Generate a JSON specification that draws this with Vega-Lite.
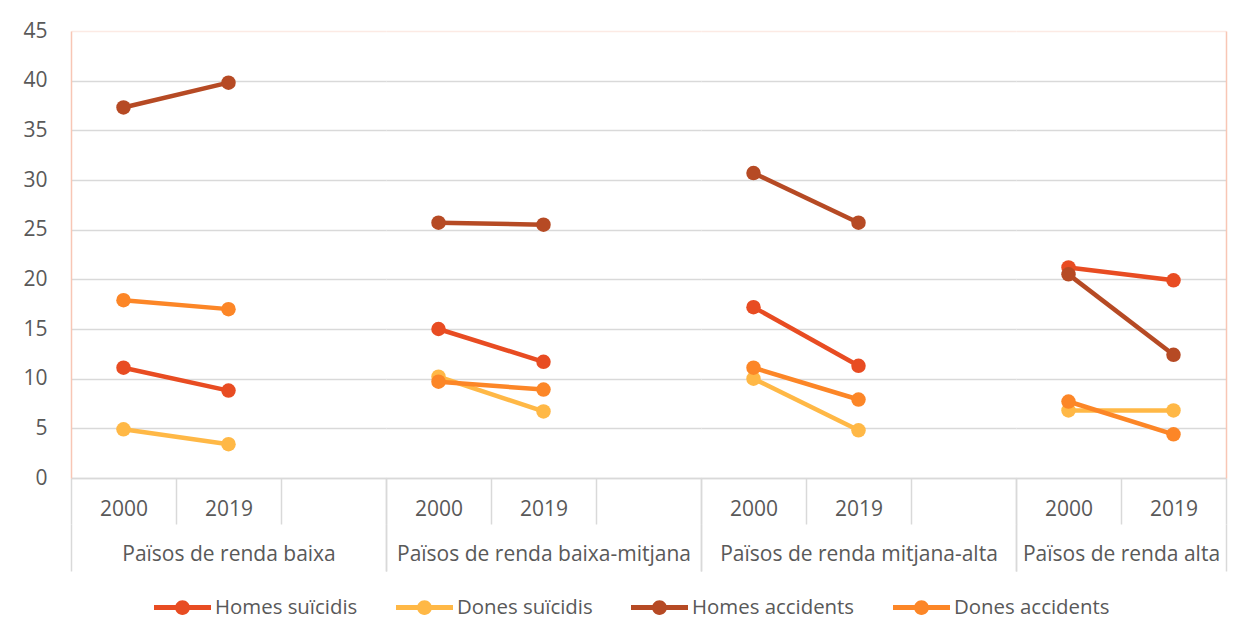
{
  "$schema": "https://vega.github.io/schema/vega-lite/v6.json",
  "data": {"values": [
    {"grup": "Països de renda baixa", "any": "2000", "serie": "Homes suïcidis", "valor": 11.1},
    {"grup": "Països de renda baixa", "any": "2019", "serie": "Homes suïcidis", "valor": 8.8},
    {"grup": "Països de renda baixa", "any": "2000", "serie": "Dones suïcidis", "valor": 4.9},
    {"grup": "Països de renda baixa", "any": "2019", "serie": "Dones suïcidis", "valor": 3.4},
    {"grup": "Països de renda baixa", "any": "2000", "serie": "Homes accidents", "valor": 37.3},
    {"grup": "Països de renda baixa", "any": "2019", "serie": "Homes accidents", "valor": 39.8},
    {"grup": "Països de renda baixa", "any": "2000", "serie": "Dones accidents", "valor": 17.9},
    {"grup": "Països de renda baixa", "any": "2019", "serie": "Dones accidents", "valor": 17.0},
    {"grup": "Països de renda baixa-mitjana", "any": "2000", "serie": "Homes suïcidis", "valor": 15.0},
    {"grup": "Països de renda baixa-mitjana", "any": "2019", "serie": "Homes suïcidis", "valor": 11.7},
    {"grup": "Països de renda baixa-mitjana", "any": "2000", "serie": "Dones suïcidis", "valor": 10.2},
    {"grup": "Països de renda baixa-mitjana", "any": "2019", "serie": "Dones suïcidis", "valor": 6.7},
    {"grup": "Països de renda baixa-mitjana", "any": "2000", "serie": "Homes accidents", "valor": 25.7},
    {"grup": "Països de renda baixa-mitjana", "any": "2019", "serie": "Homes accidents", "valor": 25.5},
    {"grup": "Països de renda baixa-mitjana", "any": "2000", "serie": "Dones accidents", "valor": 9.7},
    {"grup": "Països de renda baixa-mitjana", "any": "2019", "serie": "Dones accidents", "valor": 8.9},
    {"grup": "Països de renda mitjana-alta", "any": "2000", "serie": "Homes suïcidis", "valor": 17.2},
    {"grup": "Països de renda mitjana-alta", "any": "2019", "serie": "Homes suïcidis", "valor": 11.3},
    {"grup": "Països de renda mitjana-alta", "any": "2000", "serie": "Dones suïcidis", "valor": 10.0},
    {"grup": "Països de renda mitjana-alta", "any": "2019", "serie": "Dones suïcidis", "valor": 4.8},
    {"grup": "Països de renda mitjana-alta", "any": "2000", "serie": "Homes accidents", "valor": 30.7},
    {"grup": "Països de renda mitjana-alta", "any": "2019", "serie": "Homes accidents", "valor": 25.7},
    {"grup": "Països de renda mitjana-alta", "any": "2000", "serie": "Dones accidents", "valor": 11.1},
    {"grup": "Països de renda mitjana-alta", "any": "2019", "serie": "Dones accidents", "valor": 7.9},
    {"grup": "Països de renda alta", "any": "2000", "serie": "Homes suïcidis", "valor": 21.2},
    {"grup": "Països de renda alta", "any": "2019", "serie": "Homes suïcidis", "valor": 19.9},
    {"grup": "Països de renda alta", "any": "2000", "serie": "Dones suïcidis", "valor": 6.8},
    {"grup": "Països de renda alta", "any": "2019", "serie": "Dones suïcidis", "valor": 6.8},
    {"grup": "Països de renda alta", "any": "2000", "serie": "Homes accidents", "valor": 20.5},
    {"grup": "Països de renda alta", "any": "2019", "serie": "Homes accidents", "valor": 12.4},
    {"grup": "Països de renda alta", "any": "2000", "serie": "Dones accidents", "valor": 7.7},
    {"grup": "Països de renda alta", "any": "2019", "serie": "Dones accidents", "valor": 4.4}
  ]},
  "padding": {"left": 22, "top": 20, "right": 28, "bottom": 0},
  "bounds": "flush",
  "spacing": 0,
  "config": {
    "font": "Open Sans",
    "view": {"stroke": null},
    "axis": {"labelFont": "Open Sans", "labelColor": "#595959", "labelFontSize": 21},
    "legend": {
      "labelFont": "Open Sans", "labelFontSize": 20.4, "labelColor": "#595959", "labelLimit": 400,
      "columnPadding": 38, "labelOffset": 4, "padding": 0
    }
  },
  "resolve": {"scale": {"color": "independent", "y": "independent", "x": "independent"}, "legend": {"color": "independent"}},
  "hconcat": [
    {
      "width": 315, "height": 447,
      "transform": [{"filter": "datum.grup === 'Països de renda baixa'"}],
      "layer": [
        {"mark": {"type": "line", "strokeWidth": 4.5},
         "encoding": {
           "x": {"field": "any", "type": "ordinal", "scale": {"type": "band", "domain": ["2000", "2019", "_"], "paddingInner": 0, "paddingOuter": 0},
                 "axis": {"title": null, "labelAngle": 0, "tickBand": "extent", "tickSize": 46, "tickColor": "#D9D9D9", "tickWidth": 1.5, "domainColor": "#D9D9D9", "domainWidth": 1.5, "labelPadding": -26, "labelExpr": "datum.value == '_' ? '' : datum.value", "grid": false}},
           "y": {"field": "valor", "type": "quantitative", "scale": {"domain": [0, 45]},
                 "axis": {"title": null, "values": [0, 5, 10, 15, 20, 25, 30, 35, 40, 45], "ticks": false, "domain": true, "domainColor": "#F8C6B5", "domainWidth": 1.5, "labelPadding": 24, "grid": true, "gridColor": {"condition": {"test": "datum.value === 45", "value": "#FCEAE4"}, "value": "#D9D9D9"}, "gridWidth": 1.5}},
           "stroke": {"field": "serie", "type": "nominal", "scale": {"domain": ["Homes suïcidis", "Dones suïcidis", "Homes accidents", "Dones accidents"], "range": ["#E84C22", "#FFB846", "#B64A24", "#FC8627"]}, "legend": null}
         }},
        {"mark": {"type": "point", "filled": true, "size": 210, "opacity": 1},
         "encoding": {
           "x": {"field": "any", "type": "ordinal", "scale": {"type": "band", "domain": ["2000", "2019", "_"], "paddingInner": 0, "paddingOuter": 0}, "axis": null},
           "y": {"field": "valor", "type": "quantitative", "scale": {"domain": [0, 45]}},
           "color": {"field": "serie", "type": "nominal", "scale": {"domain": ["Homes suïcidis", "Dones suïcidis", "Homes accidents", "Dones accidents"], "range": ["#E84C22", "#FFB846", "#B64A24", "#FC8627"]},
                     "legend": {"title": null, "orient": "none", "legendX": 83, "legendY": 548, "direction": "horizontal",
                                "symbolType": "M-1,-0.09H1V0.09H-1Z M-0.26,0A0.26,0.26 0 1,1 0.26,0A0.26,0.26 0 1,1 -0.26,0Z",
                                "symbolSize": 3249, "symbolStrokeWidth": 0, "symbolOpacity": 1}}
         }},
        {"mark": {"type": "rule", "strokeOpacity": 0},
         "encoding": {
           "x": {"field": "grup", "type": "nominal", "scale": {"type": "band", "paddingInner": 0, "paddingOuter": 0},
                 "axis": {"title": null, "orient": "bottom", "offset": 46, "labelAngle": 0, "tickBand": "extent", "tickSize": 47, "tickColor": "#D9D9D9", "tickWidth": 1.5, "domain": false, "labelPadding": -28, "labelLimit": 0, "grid": false}}
         }}
      ],
      "resolve": {"scale": {"x": "independent"}, "axis": {"x": "independent"}}
    },
    {
      "width": 315, "height": 447,
      "transform": [{"filter": "datum.grup === 'Països de renda baixa-mitjana'"}],
      "layer": [
        {"mark": {"type": "line", "strokeWidth": 4.5},
         "encoding": {
           "x": {"field": "any", "type": "ordinal", "scale": {"type": "band", "domain": ["2000", "2019", "_"], "paddingInner": 0, "paddingOuter": 0},
                 "axis": {"title": null, "labelAngle": 0, "tickBand": "extent", "tickSize": 46, "tickColor": "#D9D9D9", "tickWidth": 1.5, "domainColor": "#D9D9D9", "domainWidth": 1.5, "labelPadding": -26, "labelExpr": "datum.value == '_' ? '' : datum.value", "grid": false}},
           "y": {"field": "valor", "type": "quantitative", "scale": {"domain": [0, 45]},
                 "axis": {"title": null, "values": [0, 5, 10, 15, 20, 25, 30, 35, 40, 45], "ticks": false, "labels": false, "domain": false, "grid": true, "gridColor": {"condition": {"test": "datum.value === 45", "value": "#FCEAE4"}, "value": "#D9D9D9"}, "gridWidth": 1.5}},
           "stroke": {"field": "serie", "type": "nominal", "scale": {"domain": ["Homes suïcidis", "Dones suïcidis", "Homes accidents", "Dones accidents"], "range": ["#E84C22", "#FFB846", "#B64A24", "#FC8627"]}, "legend": null}
         }},
        {"mark": {"type": "point", "filled": true, "size": 210, "opacity": 1},
         "encoding": {
           "x": {"field": "any", "type": "ordinal", "scale": {"type": "band", "domain": ["2000", "2019", "_"], "paddingInner": 0, "paddingOuter": 0}, "axis": null},
           "y": {"field": "valor", "type": "quantitative", "scale": {"domain": [0, 45]}},
           "color": {"field": "serie", "type": "nominal", "scale": {"domain": ["Homes suïcidis", "Dones suïcidis", "Homes accidents", "Dones accidents"], "range": ["#E84C22", "#FFB846", "#B64A24", "#FC8627"]}, "legend": null}
         }},
        {"mark": {"type": "rule", "strokeOpacity": 0},
         "encoding": {
           "x": {"field": "grup", "type": "nominal", "scale": {"type": "band", "paddingInner": 0, "paddingOuter": 0},
                 "axis": {"title": null, "orient": "bottom", "offset": 46, "labelAngle": 0, "tickBand": "extent", "tickSize": 47, "tickColor": "#D9D9D9", "tickWidth": 1.5, "domain": false, "labelPadding": -28, "labelLimit": 0, "grid": false}}
         }}
      ],
      "resolve": {"scale": {"x": "independent"}, "axis": {"x": "independent"}}
    },
    {
      "width": 315, "height": 447,
      "transform": [{"filter": "datum.grup === 'Països de renda mitjana-alta'"}],
      "layer": [
        {"mark": {"type": "line", "strokeWidth": 4.5},
         "encoding": {
           "x": {"field": "any", "type": "ordinal", "scale": {"type": "band", "domain": ["2000", "2019", "_"], "paddingInner": 0, "paddingOuter": 0},
                 "axis": {"title": null, "labelAngle": 0, "tickBand": "extent", "tickSize": 46, "tickColor": "#D9D9D9", "tickWidth": 1.5, "domainColor": "#D9D9D9", "domainWidth": 1.5, "labelPadding": -26, "labelExpr": "datum.value == '_' ? '' : datum.value", "grid": false}},
           "y": {"field": "valor", "type": "quantitative", "scale": {"domain": [0, 45]},
                 "axis": {"title": null, "values": [0, 5, 10, 15, 20, 25, 30, 35, 40, 45], "ticks": false, "labels": false, "domain": false, "grid": true, "gridColor": {"condition": {"test": "datum.value === 45", "value": "#FCEAE4"}, "value": "#D9D9D9"}, "gridWidth": 1.5}},
           "stroke": {"field": "serie", "type": "nominal", "scale": {"domain": ["Homes suïcidis", "Dones suïcidis", "Homes accidents", "Dones accidents"], "range": ["#E84C22", "#FFB846", "#B64A24", "#FC8627"]}, "legend": null}
         }},
        {"mark": {"type": "point", "filled": true, "size": 210, "opacity": 1},
         "encoding": {
           "x": {"field": "any", "type": "ordinal", "scale": {"type": "band", "domain": ["2000", "2019", "_"], "paddingInner": 0, "paddingOuter": 0}, "axis": null},
           "y": {"field": "valor", "type": "quantitative", "scale": {"domain": [0, 45]}},
           "color": {"field": "serie", "type": "nominal", "scale": {"domain": ["Homes suïcidis", "Dones suïcidis", "Homes accidents", "Dones accidents"], "range": ["#E84C22", "#FFB846", "#B64A24", "#FC8627"]}, "legend": null}
         }},
        {"mark": {"type": "rule", "strokeOpacity": 0},
         "encoding": {
           "x": {"field": "grup", "type": "nominal", "scale": {"type": "band", "paddingInner": 0, "paddingOuter": 0},
                 "axis": {"title": null, "orient": "bottom", "offset": 46, "labelAngle": 0, "tickBand": "extent", "tickSize": 47, "tickColor": "#D9D9D9", "tickWidth": 1.5, "domain": false, "labelPadding": -28, "labelLimit": 0, "grid": false}}
         }}
      ],
      "resolve": {"scale": {"x": "independent"}, "axis": {"x": "independent"}}
    },
    {
      "width": 210, "height": 447,
      "transform": [{"filter": "datum.grup === 'Països de renda alta'"}],
      "layer": [
        {"mark": {"type": "line", "strokeWidth": 4.5},
         "encoding": {
           "x": {"field": "any", "type": "ordinal", "scale": {"type": "band", "domain": ["2000", "2019"], "paddingInner": 0, "paddingOuter": 0},
                 "axis": {"title": null, "labelAngle": 0, "tickBand": "extent", "tickSize": 46, "tickColor": "#D9D9D9", "tickWidth": 1.5, "domainColor": "#D9D9D9", "domainWidth": 1.5, "labelPadding": -26, "grid": false}},
           "y": {"field": "valor", "type": "quantitative", "scale": {"domain": [0, 45]},
                 "axis": {"title": null, "orient": "right", "values": [0, 5, 10, 15, 20, 25, 30, 35, 40, 45], "ticks": false, "labels": false, "domain": true, "domainColor": "#F8C6B5", "domainWidth": 1.5, "grid": true, "gridColor": {"condition": {"test": "datum.value === 45", "value": "#FCEAE4"}, "value": "#D9D9D9"}, "gridWidth": 1.5}},
           "stroke": {"field": "serie", "type": "nominal", "scale": {"domain": ["Homes suïcidis", "Dones suïcidis", "Homes accidents", "Dones accidents"], "range": ["#E84C22", "#FFB846", "#B64A24", "#FC8627"]}, "legend": null}
         }},
        {"mark": {"type": "point", "filled": true, "size": 210, "opacity": 1},
         "encoding": {
           "x": {"field": "any", "type": "ordinal", "scale": {"type": "band", "domain": ["2000", "2019"], "paddingInner": 0, "paddingOuter": 0}, "axis": null},
           "y": {"field": "valor", "type": "quantitative", "scale": {"domain": [0, 45]}},
           "color": {"field": "serie", "type": "nominal", "scale": {"domain": ["Homes suïcidis", "Dones suïcidis", "Homes accidents", "Dones accidents"], "range": ["#E84C22", "#FFB846", "#B64A24", "#FC8627"]}, "legend": null}
         }},
        {"mark": {"type": "rule", "strokeOpacity": 0},
         "encoding": {
           "x": {"field": "grup", "type": "nominal", "scale": {"type": "band", "paddingInner": 0, "paddingOuter": 0},
                 "axis": {"title": null, "orient": "bottom", "offset": 46, "labelAngle": 0, "tickBand": "extent", "tickSize": 47, "tickColor": "#D9D9D9", "tickWidth": 1.5, "domain": false, "labelPadding": -28, "labelLimit": 0, "grid": false}}
         }}
      ],
      "resolve": {"scale": {"x": "independent"}, "axis": {"x": "independent"}}
    }
  ]
}
